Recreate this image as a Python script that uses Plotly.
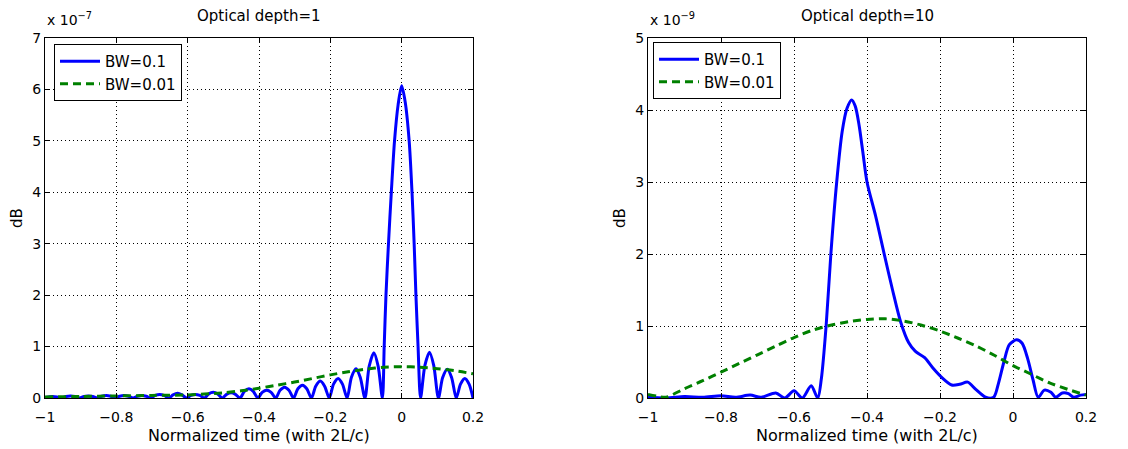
import plotly.graph_objects as go

# ---------------- data (values in units of the axis multiplier) ----------------
# Left panel: Optical depth = 1  (x 10^-7)
t_left_bw01 = [-1.000, -0.990, -0.978, -0.966, -0.953,
               -0.941, -0.928, -0.916, -0.903,
               -0.891, -0.878, -0.866, -0.853,
               -0.841, -0.828, -0.816, -0.803,
               -0.791, -0.778, -0.766, -0.753,
               -0.741, -0.728, -0.716, -0.703,
               -0.691, -0.678, -0.666, -0.653,
               -0.641, -0.628, -0.616, -0.603,
               -0.591, -0.578, -0.566, -0.553,
               -0.541, -0.528, -0.516, -0.503,
               -0.491, -0.478, -0.466, -0.453,
               -0.441, -0.428, -0.416, -0.403,
               -0.391, -0.378, -0.366, -0.353,
               -0.341, -0.328, -0.316, -0.303,
               -0.291, -0.278, -0.266, -0.253,
               -0.241, -0.228, -0.216, -0.203,
               -0.191, -0.178, -0.166, -0.153,
               -0.141, -0.128, -0.116, -0.103,
               -0.091, -0.078, -0.066, -0.054,
               -0.049, -0.044, -0.037, -0.029, -0.020, -0.010, 0.000,
               0.010, 0.021, 0.029, 0.035, 0.040, 0.046, 0.053,
               0.065, 0.078, 0.090, 0.103,
               0.115, 0.128, 0.140, 0.153,
               0.165, 0.177, 0.189, 0.200]
v_left_bw01 = [0.01, 0.02, 0.03, 0.02, 0.0,
               0.03, 0.04, 0.03, 0.0,
               0.03, 0.04, 0.03, 0.0,
               0.035, 0.05, 0.035, 0.0,
               0.035, 0.05, 0.035, 0.0,
               0.035, 0.05, 0.035, 0.0,
               0.05, 0.07, 0.05, 0.0,
               0.06, 0.09, 0.06, 0.0,
               0.05, 0.07, 0.05, 0.0,
               0.08, 0.11, 0.08, 0.0,
               0.07, 0.10, 0.07, 0.0,
               0.13, 0.18, 0.13, 0.0,
               0.11, 0.15, 0.11, 0.0,
               0.15, 0.21, 0.15, 0.0,
               0.18, 0.25, 0.18, 0.0,
               0.23, 0.33, 0.23, 0.0,
               0.27, 0.38, 0.27, 0.0,
               0.40, 0.57, 0.40, 0.0,
               0.62, 0.88, 0.62, 0.0,
               1.0, 2.0, 3.0, 4.0, 5.0, 5.7, 6.07,
               5.75, 5.0, 4.0, 3.0, 2.0, 1.0, 0.0,
               0.63, 0.89, 0.63, 0.0,
               0.40, 0.56, 0.40, 0.0,
               0.27, 0.38, 0.27, 0.0]

t_left_bw001 = [-1.0, -0.9, -0.8, -0.7, -0.6, -0.5, -0.45, -0.4, -0.35, -0.3,
                -0.25, -0.2, -0.15, -0.1, -0.05, 0.0, 0.05, 0.1, 0.15, 0.2]
v_left_bw001 = [0.02, 0.03, 0.04, 0.05, 0.06, 0.10, 0.14, 0.19, 0.25, 0.31,
                0.38, 0.45, 0.51, 0.56, 0.60, 0.61, 0.60, 0.57, 0.53, 0.47]

# Right panel: Optical depth = 10  (x 10^-9)
t_right_bw01 = [-1.0, -0.95, -0.9, -0.85, -0.8, -0.76, -0.72, -0.69, -0.65, -0.625,
                -0.6, -0.577, -0.553, -0.535, -0.525, -0.512, -0.499, -0.483, -0.468, -0.455,
                -0.442, -0.432, -0.422, -0.411, -0.4, -0.376, -0.352, -0.33, -0.308, -0.286,
                -0.268, -0.242, -0.22, -0.194, -0.168, -0.146, -0.124, -0.102, -0.075, -0.053,
                -0.04, -0.025, -0.01, 0.01, 0.025, 0.04, 0.055, 0.069, 0.086, 0.104,
                0.117, 0.135, 0.152, 0.166, 0.185, 0.2]
v_right_bw01 = [0.01, 0.0, 0.02, 0.01, 0.03, 0.01, 0.04, 0.01, 0.07, 0.0,
                0.10, 0.0, 0.17, 0.0, 0.27, 1.0, 2.0, 3.0, 3.7, 4.02,
                4.14, 4.05, 3.8, 3.4, 3.0, 2.52, 1.98, 1.5, 1.06, 0.77,
                0.65, 0.56, 0.42, 0.28, 0.18, 0.19, 0.22, 0.12, 0.01, 0.01,
                0.2, 0.5, 0.74, 0.81, 0.76, 0.55, 0.25, 0.01, 0.11, 0.08,
                0.01, 0.07, 0.06, 0.01, 0.04, 0.05]

t_right_bw001 = [-1.0, -0.97, -0.95, -0.9, -0.85, -0.8, -0.75, -0.7, -0.65, -0.6, -0.55,
                 -0.5, -0.45, -0.4, -0.35, -0.3, -0.25, -0.2, -0.15, -0.1, -0.05,
                 0.0, 0.05, 0.1, 0.15, 0.2]
v_right_bw001 = [0.05, 0.02, 0.01, 0.13, 0.24, 0.36, 0.48, 0.60, 0.72, 0.84, 0.94,
                 1.01, 1.06, 1.09, 1.10, 1.07, 1.01, 0.93, 0.83, 0.72, 0.59,
                 0.45, 0.33, 0.21, 0.12, 0.04]

assert len(t_left_bw01) == len(v_left_bw01)
assert len(t_left_bw001) == len(v_left_bw001)
assert len(t_right_bw01) == len(v_right_bw01)
assert len(t_right_bw001) == len(v_right_bw001)

series_names = ["BW=0.1", "BW=0.01"]
panel_titles = ["Optical depth=1", "Optical depth=10"]
multipliers = ["x 10<sup>\u22127</sup>", "x 10<sup>\u22129</sup>"]
x_title = "Normalized time (with 2L/c)"
y_title = "dB"

# ---------------- figure ----------------
OFF = 8                      # page body margin of the HTML page (top-left offset)
W, H = 1128 - OFF, 449 - OFF
FONT = "DejaVu Sans"
BLUE = "#0000FF"
GREEN = "#008000"

def px(x):   # window x pixel -> paper fraction
    return (x - OFF) / W

def py(y):   # window y pixel (from top) -> paper fraction
    return 1 - (y - OFF) / H

fig = go.Figure()

def add_pair(tb, vb, tg, vg, xa, ya, legend):
    fig.add_trace(go.Scatter(x=tb, y=vb, mode="lines", name=series_names[0],
                             line=dict(color=BLUE, width=3, shape="spline", smoothing=0.8),
                             xaxis=xa, yaxis=ya, legend=legend))
    fig.add_trace(go.Scatter(x=tg, y=vg, mode="lines", name=series_names[1],
                             line=dict(color=GREEN, width=3, dash="8px,5px", shape="spline", smoothing=0.8),
                             xaxis=xa, yaxis=ya, legend=legend))

add_pair(t_left_bw01, v_left_bw01, t_left_bw001, v_left_bw001, "x", "y", "legend")
add_pair(t_right_bw01, v_right_bw01, t_right_bw001, v_right_bw001, "x2", "y2", "legend2")

ydom = [py(398), py(38)]
lx = [45, 473]
rx = [648, 1086]

axis_common = dict(showline=True, linecolor="black", linewidth=1, mirror="ticks",
                   ticks="inside", ticklen=5, tickcolor="black", automargin=False,
                   showgrid=True, gridcolor="black", gridwidth=1, griddash="1px,3px",
                   zeroline=False, tickfont=dict(family=FONT, size=14, color="black"))

legend_common = dict(xanchor="left", yanchor="top", bgcolor="white", bordercolor="black",
                     borderwidth=1, itemwidth=40, entrywidth=94, entrywidthmode="pixels",
                     font=dict(family=FONT, size=15, color="black"))

fig.update_layout(
    width=W, height=H, margin=dict(l=0, r=0, t=0, b=0, autoexpand=False),
    paper_bgcolor="white", plot_bgcolor="white",
    xaxis=dict(domain=[px(lx[0]), px(lx[1])], range=[-1, 0.2], tick0=-1, dtick=0.2,
               anchor="y", ticklabelstandoff=6, **axis_common),
    yaxis=dict(domain=ydom, range=[0, 7], tick0=0, dtick=1, anchor="x", **axis_common),
    xaxis2=dict(domain=[px(rx[0]), px(rx[1])], range=[-1, 0.2], tick0=-1, dtick=0.2,
                anchor="y2", ticklabelstandoff=6, **axis_common),
    yaxis2=dict(domain=ydom, range=[0, 5], tick0=0, dtick=1, anchor="x2", **axis_common),
    legend=dict(x=px(54), y=py(44), **legend_common),
    legend2=dict(x=px(653), y=py(42), **legend_common),
)

annots = []
for i, (x0, x1) in enumerate([lx, rx]):
    cx = px((x0 + x1) / 2)
    annots.append(dict(text=panel_titles[i], x=cx, y=py(16), xref="paper", yref="paper",
                       xanchor="center", yanchor="middle", showarrow=False,
                       font=dict(family=FONT, size=15, color="black")))
    annots.append(dict(text=multipliers[i], x=px(x0), y=py(30), xref="paper", yref="paper",
                       xanchor="left", yanchor="bottom", showarrow=False,
                       font=dict(family=FONT, size=14, color="black")))
    annots.append(dict(text=x_title, x=cx, y=py(435), xref="paper", yref="paper",
                       xanchor="center", yanchor="middle", showarrow=False,
                       font=dict(family=FONT, size=16, color="black")))
    annots.append(dict(text=y_title, x=px(x0 - 28), y=py(218), xref="paper", yref="paper",
                       xanchor="center", yanchor="middle", textangle=-90, showarrow=False,
                       font=dict(family=FONT, size=15, color="black")))
fig.update_layout(annotations=annots)

fig.write_html("out.html")
